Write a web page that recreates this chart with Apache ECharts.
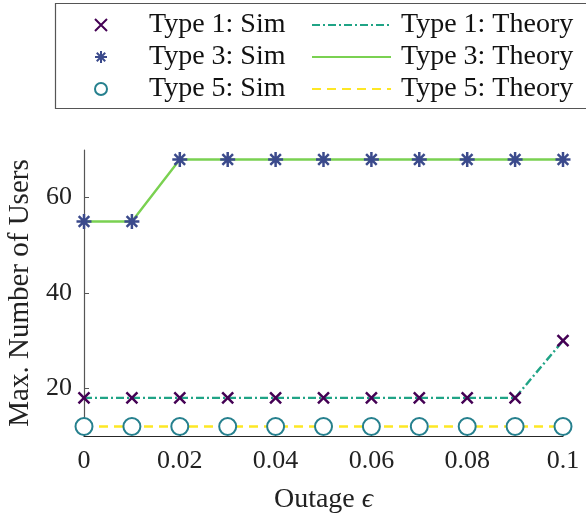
<!DOCTYPE html>
<html>
<head>
<meta charset="utf-8">
<script src="https://cdn.jsdelivr.net/npm/echarts@6/dist/echarts.min.js"></script>
<style>
  html, body { margin: 0; padding: 0; background: #fff; }
  #chart { width: 586px; height: 514px; }
</style>
</head>
<body>
<div id="chart"></div>
<script>
// Outage probability values on the x axis
const outage = [0, 0.01, 0.02, 0.03, 0.04, 0.05, 0.06, 0.07, 0.08, 0.09, 0.1];

// Simulated maximum number of users per type
const type1Sim = [18, 18, 18, 18, 18, 18, 18, 18, 18, 18, 30];
const type3Sim = [55, 55, 68, 68, 68, 68, 68, 68, 68, 68, 68];
const type5Sim = [12, 12, 12, 12, 12, 12, 12, 12, 12, 12, 12];

// Theoretical maximum number of users per type
const type1Theory = [18, 18, 18, 18, 18, 18, 18, 18, 18, 18, 30];
const type3Theory = [55, 55, 68, 68, 68, 68, 68, 68, 68, 68, 68];
const type5Theory = [12, 12, 12, 12, 12, 12, 12, 12, 12, 12, 12];

// Labelled y ticks
const yTicks = [20, 40, 60];

const FONT = '"Liberation Serif", "Times New Roman", serif';

const pairs = (ys) => outage.map((x, i) => [x, ys[i]]);

// Marker shapes drawn as stroked paths
const crossPath = 'path://M0 0L12 12M12 0L0 12';
const asteriskPath = 'path://M6 0L6 12M0 6L12 6M1.76 1.76L10.24 10.24M10.24 1.76L1.76 10.24';

const chart = echarts.init(document.getElementById('chart'), null, { renderer: 'canvas' });

const option = {
  backgroundColor: '#fff',
  animation: false,
  textStyle: { fontFamily: FONT },
  grid: {
    left: 84, right: 23, top: 150, bottom: 78,
    containLabel: false,
    outerBoundsMode: 'none'
  },
  graphic: [{
    type: 'rect',
    z: -1,
    shape: { x: 55.5, y: 3.5, width: 540, height: 105 },
    style: { fill: '#fff', stroke: '#555', lineWidth: 1.2 }
  }],
  legend: [{
    orient: 'vertical',
    left: 89, top: 6,
    itemWidth: 76, itemHeight: 12, itemGap: 4,
    data: ['Type 1: Sim', 'Type 3: Sim', 'Type 5: Sim'],
    textStyle: { fontFamily: FONT, fontSize: 28, color: '#111', padding: [0, 0, 0, 5] }
  }, {
    orient: 'vertical',
    left: 306, top: 6,
    itemWidth: 79, itemHeight: 14, itemGap: 4,
    data: ['Type 1: Theory', 'Type 3: Theory', 'Type 5: Theory'],
    itemStyle: { opacity: 0 },
    textStyle: { fontFamily: FONT, fontSize: 28, color: '#111', padding: [0, 0, 0, 5] }
  }],
  xAxis: {
    type: 'value',
    min: 0, max: 0.1, interval: 0.02,
    name: 'Outage {e|ϵ}',
    nameLocation: 'middle',
    nameGap: 50,
    nameTextStyle: {
      fontFamily: FONT, fontSize: 28, color: '#222',
      rich: { e: { fontFamily: FONT, fontSize: 28, fontStyle: 'italic', color: '#222' } }
    },
    axisLine: { lineStyle: { color: '#262626', width: 1.2 } },
    axisTick: { inside: true, length: 5, lineStyle: { color: '#262626' } },
    axisLabel: { fontFamily: FONT, fontSize: 26, color: '#222', margin: 12 },
    splitLine: { show: false }
  },
  yAxis: {
    type: 'value',
    min: 10, max: 70,
    name: 'Max. Number of Users',
    nameLocation: 'middle',
    nameGap: 47,
    nameTextStyle: { fontFamily: FONT, fontSize: 29, color: '#222' },
    axisLine: { show: true, lineStyle: { color: '#555', width: 1.2 } },
    axisTick: { show: true, inside: true, length: 5, customValues: yTicks, lineStyle: { color: '#555' } },
    axisLabel: { fontFamily: FONT, fontSize: 26, color: '#222', margin: 12, customValues: yTicks },
    splitLine: { show: false }
  },
  series: [
    {
      name: 'Type 1: Theory', type: 'line', symbol: 'none', z: 2,
      data: pairs(type1Theory),
      lineStyle: { color: '#20a486', width: 2.4, type: [8, 3, 2, 3] },
      itemStyle: { color: '#20a486', opacity: 0 }
    },
    {
      name: 'Type 3: Theory', type: 'line', symbol: 'none', z: 2,
      data: pairs(type3Theory),
      lineStyle: { color: '#7ad151', width: 2.4, type: 'solid' },
      itemStyle: { color: '#7ad151', opacity: 0 }
    },
    {
      name: 'Type 5: Theory', type: 'line', symbol: 'none', z: 2,
      data: pairs(type5Theory),
      lineStyle: { color: '#fde725', width: 2.4, type: [9, 6] },
      itemStyle: { color: '#fde725', opacity: 0 }
    },
    {
      name: 'Type 1: Sim', type: 'scatter', z: 3,
      symbol: crossPath, symbolSize: 11,
      data: pairs(type1Sim),
      itemStyle: { color: 'rgba(0,0,0,0)', borderColor: '#440154', borderWidth: 2.5, opacity: 1 }
    },
    {
      name: 'Type 3: Sim', type: 'scatter', z: 3,
      symbol: asteriskPath, symbolSize: 15,
      data: pairs(type3Sim),
      itemStyle: { color: 'rgba(0,0,0,0)', borderColor: '#3b4a8c', borderWidth: 2.5, opacity: 1 }
    },
    {
      name: 'Type 5: Sim', type: 'scatter', z: 3,
      symbol: 'emptyCircle', symbolSize: 17,
      data: pairs(type5Sim),
      itemStyle: { color: '#26808e', borderColor: '#26808e', borderWidth: 2.5, opacity: 1 }
    }
  ]
};

chart.setOption(option);
</script>
</body>
</html>
